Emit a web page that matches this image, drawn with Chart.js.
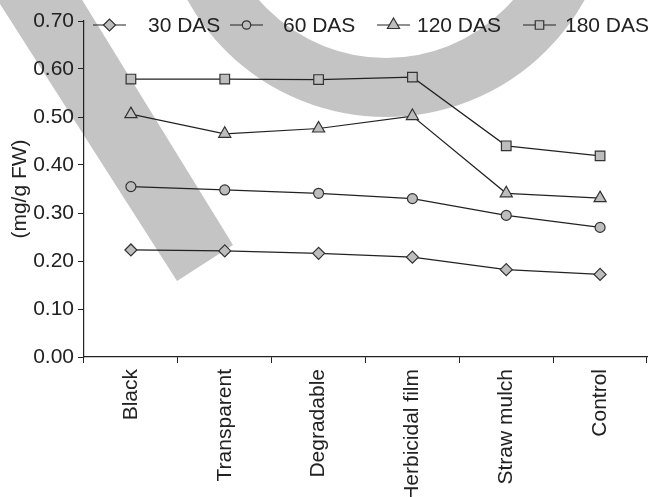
<!DOCTYPE html>
<html lang="en">
<head>
  <meta charset="UTF-8">
  <title>Mulch treatments (mg/g FW)</title>
  <style>
    html, body { margin: 0; padding: 0; background: #ffffff; }
    #wrap { width: 649px; height: 497px; position: relative; }
  </style>
</head>
<body>
  <div id="wrap">
    <canvas id="myChart"></canvas>
  </div>

  <script src="https://cdn.jsdelivr.net/npm/chart.js"></script>
  <script>
    const categories = ['Black', 'Transparent', 'Degradable', 'Herbicidal film', 'Straw mulch', 'Control'];
    const das30 = [0.223, 0.221, 0.216, 0.208, 0.182, 0.172];
    const das60 = [0.355, 0.348, 0.341, 0.330, 0.295, 0.270];
    const das120 = [0.506, 0.465, 0.476, 0.502, 0.341, 0.331];
    const das180 = [0.579, 0.579, 0.578, 0.583, 0.440, 0.419];
    const yTicks = [0, 0.1, 0.2, 0.3, 0.4, 0.5, 0.6, 0.7];

    const ink = '#222222';
    const markFill = '#bdbdbd';
    const font = 'Liberation Sans, Arial, sans-serif';

    function series(label, data, style, radius) {
      return {
        label: label,
        data: data,
        borderColor: ink,
        borderWidth: 1.2,
        backgroundColor: markFill,
        pointStyle: style,
        pointRadius: radius,
        pointHoverRadius: radius,
        pointBorderColor: '#333333',
        pointBorderWidth: 1.2,
        pointBackgroundColor: markFill,
        tension: 0
      };
    }

    // grey watermark behind everything
    const watermark = {
      id: 'watermark',
      beforeDraw(chart) {
        const ctx = chart.ctx;
        ctx.save();
        ctx.fillStyle = '#c4c4c4';
        ctx.strokeStyle = '#c4c4c4';
        ctx.beginPath();
        ctx.moveTo(-9, -10);
        ctx.lineTo(76, -10);
        ctx.lineTo(233, 245);
        ctx.lineTo(177, 281);
        ctx.closePath();
        ctx.fill();
        ctx.lineWidth = 59;
        ctx.beginPath();
        ctx.arc(386, -110, 197.5, 0, Math.PI * 2);
        ctx.stroke();
        ctx.restore();
      }
    };

    // legend with a short line through each marker
    const lineLegend = {
      id: 'lineLegend',
      afterDraw(chart) {
        const ctx = chart.ctx;
        const items = [
          { x: 93, tx: 148, r: 6 },
          { x: 230, tx: 283, r: 4.2 },
          { x: 377, tx: 417, r: 7 },
          { x: 523, tx: 565, r: 6 }
        ];
        const y = 25;
        ctx.save();
        chart.data.datasets.forEach((ds, i) => {
          const it = items[i];
          ctx.strokeStyle = ink;
          ctx.lineWidth = 1.2;
          ctx.beginPath();
          ctx.moveTo(it.x, y);
          ctx.lineTo(it.x + 33, y);
          ctx.stroke();
          ctx.fillStyle = markFill;
          ctx.strokeStyle = '#333333';
          Chart.helpers.drawPoint(ctx, { pointStyle: ds.pointStyle, radius: it.r, rotation: 0, borderWidth: 1.2 }, it.x + 16.5, y);
          ctx.fillStyle = ink;
          ctx.font = '21px ' + font;
          ctx.textBaseline = 'middle';
          ctx.textAlign = 'left';
          ctx.fillText(ds.label, it.tx, y + 1);
        });
        ctx.restore();
      }
    };

    const ctx = document.getElementById('myChart').getContext('2d');
    new Chart(ctx, {
      type: 'line',
      data: {
        labels: categories,
        datasets: [
          series('30 DAS', das30, 'rectRot', 6),
          series('60 DAS', das60, 'circle', 5),
          series('120 DAS', das120, 'triangle', 7),
          series('180 DAS', das180, 'rect', 6.8)
        ]
      },
      options: {
        responsive: true,
        maintainAspectRatio: false,
        animation: false,
        layout: { autoPadding: false, padding: { top: 21, right: 2, left: 0, bottom: 0 } },
        plugins: {
          legend: { display: false },
          tooltip: { enabled: false }
        },
        scales: {
          x: {
            offset: true,
            afterFit(scale) {
              scale.height = 140;
            },
            grid: {
              offset: true,
              drawOnChartArea: false,
              drawTicks: true,
              tickLength: 6,
              color: ink
            },
            border: { display: true, color: ink, width: 1.2 },
            ticks: {
              maxRotation: 90,
              minRotation: 90,
              autoSkip: false,
              padding: 6,
              color: ink,
              font: { family: font, size: 21 }
            }
          },
          y: {
            min: 0,
            max: 0.7,
            afterFit(scale) { scale.width = 84; },
            afterBuildTicks(scale) {
              scale.ticks = yTicks.map(v => ({ value: v }));
            },
            grid: {
              drawOnChartArea: false,
              drawTicks: true,
              tickLength: 6,
              color: ink
            },
            border: { display: true, color: ink, width: 1.2 },
            title: {
              display: true,
              text: '(mg/g FW)',
              color: ink,
              font: { family: font, size: 21 },
              padding: { top: 8, bottom: 0 }
            },
            ticks: {
              padding: 4,
              color: ink,
              font: { family: font, size: 21 },
              callback: v => Number(v).toFixed(2)
            }
          }
        }
      },
      plugins: [watermark, lineLegend]
    });
  </script>
</body>
</html>
